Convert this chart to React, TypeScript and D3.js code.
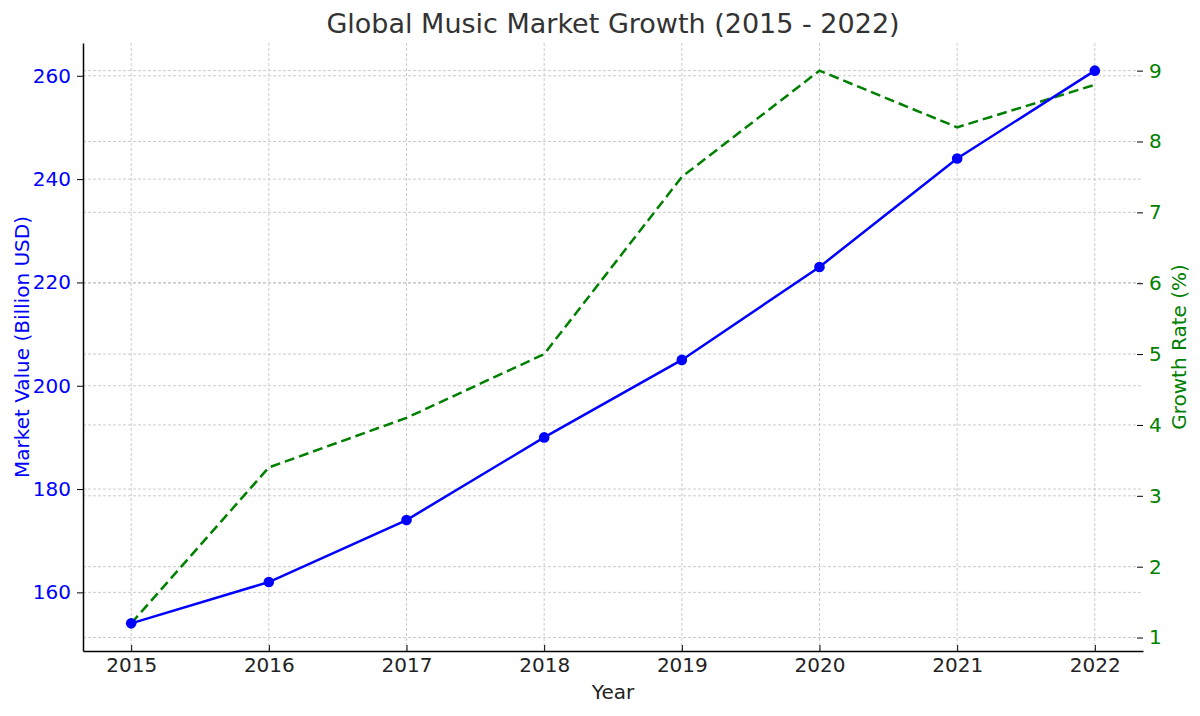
import React, { useEffect, useRef } from 'react';
import * as d3 from 'd3';

const years = [2015, 2016, 2017, 2018, 2019, 2020, 2021, 2022];
const marketValue = [154, 162, 174, 190, 205, 223, 244, 261];
const growthRate = [1.2, 3.4, 4.1, 5.0, 7.5, 9.0, 8.2, 8.8];
const leftTicks = [160, 180, 200, 220, 240, 260];
const rightTicks = [1, 2, 3, 4, 5, 6, 7, 8, 9];

const width = 1200;
const height = 716;
const margin = { top: 43, right: 57, bottom: 65, left: 83 };
const font = 'DejaVu Sans, sans-serif';
const tickFont = '20px';

const App: React.FC = () => {
  const ref = useRef<SVGSVGElement>(null);

  useEffect(() => {
    document.body.style.margin = '0';
    if (!ref.current) return;
    const svg = d3.select(ref.current);
    svg.selectAll('*').remove();

    const x0 = margin.left;
    const x1 = width - margin.right;
    const y0 = height - margin.bottom;
    const y1 = margin.top;

    const x = d3.scaleLinear().domain([2014.65, 2022.35]).range([x0, x1]);
    const yL = d3.scaleLinear().domain([148.65, 266.35]).range([y0, y1]);
    const yR = d3.scaleLinear().domain([0.81, 9.39]).range([y0, y1]);

    const grid = svg.append('g')
      .attr('stroke', '#cccccc')
      .attr('stroke-width', 1)
      .attr('stroke-dasharray', '3,2');

    years.forEach(yr => {
      grid.append('line')
        .attr('x1', x(yr)).attr('x2', x(yr))
        .attr('y1', y1).attr('y2', y0);
    });
    leftTicks.forEach(v => {
      grid.append('line')
        .attr('x1', x0).attr('x2', x1)
        .attr('y1', yL(v)).attr('y2', yL(v));
    });
    rightTicks.forEach(v => {
      grid.append('line')
        .attr('x1', x0).attr('x2', x1 - 6)
        .attr('y1', yR(v)).attr('y2', yR(v));
    });

    // Axes
    svg.append('g')
      .attr('transform', `translate(0,${y0})`)
      .call(d3.axisBottom(x).tickValues(years).tickFormat(d3.format('d')).tickSizeInner(-6).tickSizeOuter(0).tickPadding(7))
      .call(g => g.select('.domain').attr('stroke', '#000').attr('stroke-width', 1.5))
      .call(g => g.selectAll('.tick line').attr('stroke', '#000'))
      .call(g => g.selectAll('.tick text').attr('fill', '#222').attr('font-size', tickFont).attr('font-family', font));

    svg.append('g')
      .attr('transform', `translate(${x0},0)`)
      .call(d3.axisLeft(yL).tickValues(leftTicks).tickSize(6).tickSizeOuter(0).tickPadding(6))
      .call(g => g.select('.domain').attr('stroke', '#000').attr('stroke-width', 1.5))
      .call(g => g.selectAll('.tick line').attr('stroke', '#000'))
      .call(g => g.selectAll('.tick text').attr('fill', '#0000ff').attr('font-size', tickFont).attr('font-family', font));

    svg.append('g')
      .attr('transform', `translate(${x1 - 6},0)`)
      .call(d3.axisRight(yR).tickValues(rightTicks).tickSize(6).tickSizeOuter(0).tickPadding(6))
      .call(g => g.select('.domain').remove())
      .call(g => g.selectAll('.tick line').attr('stroke', '#000'))
      .call(g => g.selectAll('.tick text').attr('fill', '#008000').attr('font-size', tickFont).attr('font-family', font));

    // Lines
    const lineL = d3.line<number>().x((_, i) => x(years[i])).y(d => yL(d));
    const lineR = d3.line<number>().x((_, i) => x(years[i])).y(d => yR(d));

    svg.append('path')
      .datum(growthRate)
      .attr('d', lineR)
      .attr('fill', 'none')
      .attr('stroke', '#008000')
      .attr('stroke-width', 2.5)
      .attr('stroke-dasharray', '10,5');

    svg.append('path')
      .datum(marketValue)
      .attr('d', lineL)
      .attr('fill', 'none')
      .attr('stroke', '#0000ff')
      .attr('stroke-width', 2.5);

    svg.append('g')
      .selectAll('circle')
      .data(marketValue)
      .join('circle')
      .attr('cx', (_, i) => x(years[i]))
      .attr('cy', d => yL(d))
      .attr('r', 5.3)
      .attr('fill', '#0000ff');

    // Labels
    svg.append('text')
      .attr('x', (x0 + x1) / 2)
      .attr('y', 33)
      .attr('text-anchor', 'middle')
      .attr('fill', '#333')
      .attr('font-size', '27px')
      .attr('font-family', font)
      .text('Global Music Market Growth (2015 - 2022)');

    svg.append('text')
      .attr('x', (x0 + x1) / 2)
      .attr('y', 699)
      .attr('text-anchor', 'middle')
      .attr('fill', '#222')
      .attr('font-size', tickFont)
      .attr('font-family', font)
      .text('Year');

    svg.append('text')
      .attr('transform', `translate(29,${(y0 + y1) / 2}) rotate(-90)`)
      .attr('text-anchor', 'middle')
      .attr('fill', '#0000ff')
      .attr('font-size', tickFont)
      .attr('font-family', font)
      .text('Market Value (Billion USD)');

    svg.append('text')
      .attr('transform', `translate(1186,${(y0 + y1) / 2}) rotate(-90)`)
      .attr('text-anchor', 'middle')
      .attr('fill', '#008000')
      .attr('font-size', tickFont)
      .attr('font-family', font)
      .text('Growth Rate (%)');
  }, []);

  return (
    <svg ref={ref} width={width} height={height} style={{ display: 'block', background: '#fff' }} />
  );
};

export default App;
